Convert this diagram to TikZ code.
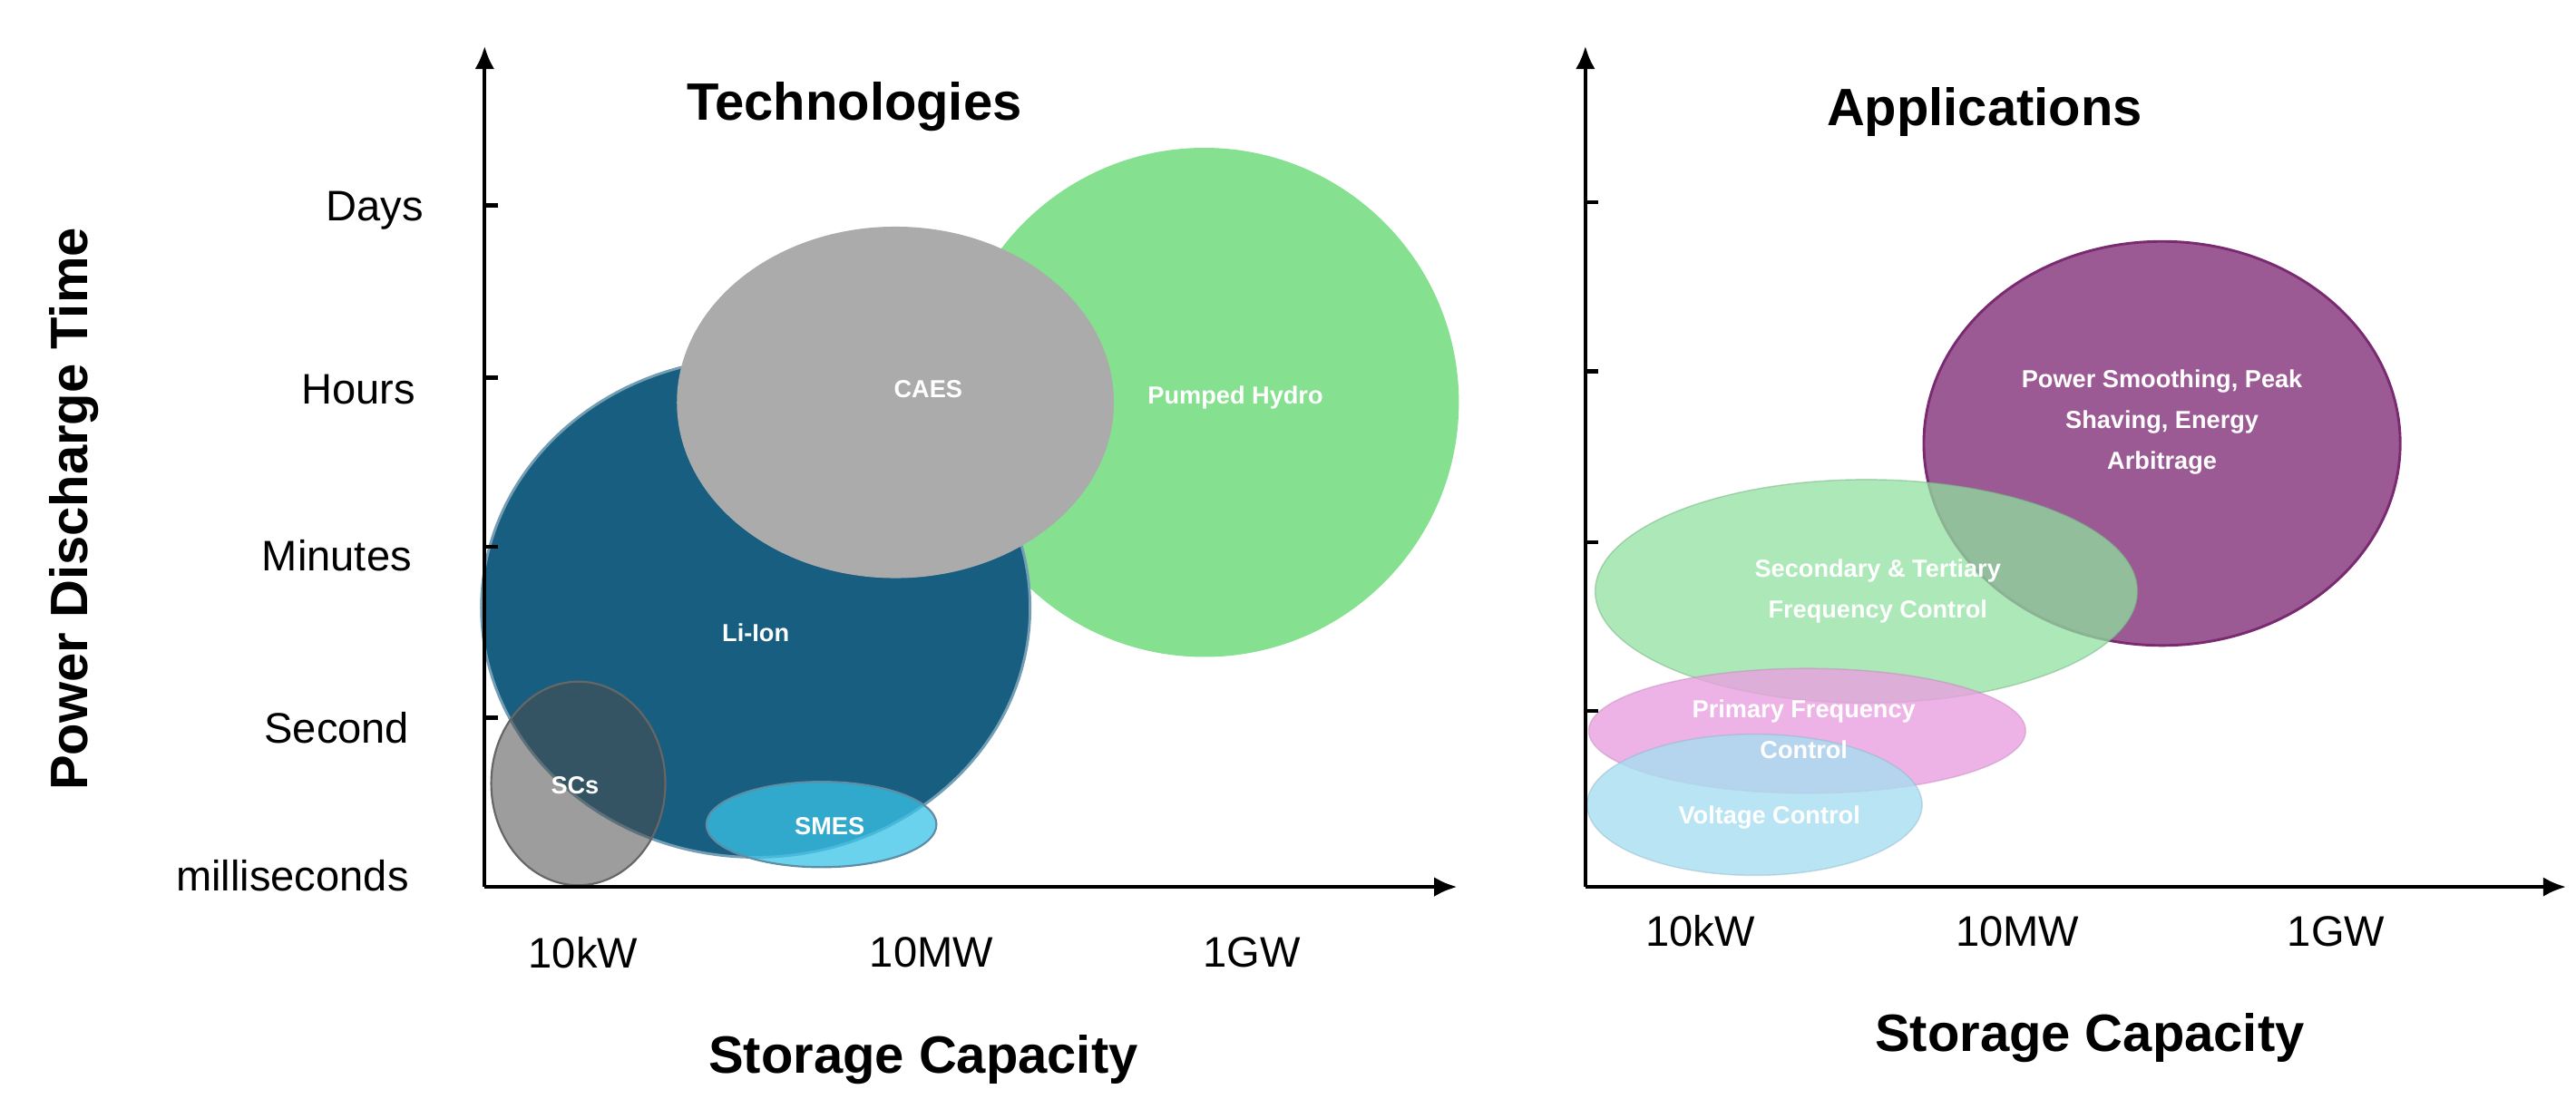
\documentclass[tikz,border=0pt]{standalone}
\usepackage{fontspec}
\setmainfont{Liberation Sans}
\usetikzlibrary{arrows.meta}
\definecolor{hydro}{HTML}{85E08F}
\definecolor{liion}{HTML}{175E80}
\definecolor{caes}{HTML}{ABABAB}
\definecolor{smes}{HTML}{3AC3E8}
\definecolor{purp}{HTML}{9B5A93}
\definecolor{purpb}{HTML}{7A2A70}
\definecolor{agreen}{HTML}{90E0A0}
\definecolor{apink}{HTML}{E9A0E0}
\definecolor{ablue}{HTML}{A8DDF0}
\begin{document}
\begin{tikzpicture}[x=0.5pt,y=-0.5pt,
 ax/.style={line width=1.2pt,-{Latex[length=7pt,width=6pt]}},
 tk/.style={line width=1.2pt},
 lab/.style={font=\fontsize{13}{15}\selectfont},
 ttl/.style={font=\fontsize{16}{19}\selectfont\bfseries},
 el/.style={text=white,font=\fontsize{7.5}{12.5}\selectfont\bfseries,align=center}]
\useasboundingbox (0,0) rectangle (1568,669);
% left ellipses
\fill[hydro] (733,245) ellipse [x radius=155,y radius=155];
\filldraw[fill=liion,draw=liion!60!white,line width=0.8pt] (460,370) ellipse [x radius=167,y radius=152];
\fill[caes] (545,245) ellipse [x radius=133,y radius=107];
\filldraw[fill=black!70,fill opacity=0.55,draw=black!60,line width=0.6pt] (352,477) ellipse [x radius=53,y radius=62];
\filldraw[fill=smes,fill opacity=0.75,draw=liion!70,line width=0.6pt] (500,502) ellipse [x radius=70,y radius=26];
\node[el] (ph) at (752,242) {Pumped Hydro};
\node[el] (li) at (460,385) {Li-Ion};
\node[el] (ca) at (565,237) {CAES};
\node[el] (sc) at (350,478) {SCs};
\node[el] (sm) at (505,503) {SMES};
% left axes
\coordinate (lo) at (295,540);
\coordinate (ly) at (295,28);
\coordinate (lx) at (887,540);
\draw[ax] (lo) -- (ly);
\draw[ax] (lo) -- (lx);
\foreach \y in {125,230,333,437} \draw[tk] (295,\y) -- (303,\y);
\node[lab] (d) at (228,128) {Days};
\node[lab] (h) at (218,237) {Hours};
\node[lab] (m) at (205,338) {Minutes};
\node[lab] (s) at (205,443) {Second};
\node[lab] (ms) at (178,533) {milliseconds};
\node[ttl] (t1) at (520,65) {Technologies};
\node[lab] (x1) at (355,580) {10kW};
\node[lab] (x2) at (567,580) {10MW};
\node[lab] (x3) at (762,580) {1GW};
\node[ttl] (sx1) at (562,645) {Storage Capacity};
\node[ttl,rotate=90] (py) at (45,310) {Power Discharge Time};
% right ellipses
\filldraw[fill=purp,draw=purpb,line width=0.8pt] (1316,270) ellipse [x radius=145,y radius=123];
\filldraw[fill=agreen,fill opacity=0.75,draw=agreen!80!black,draw opacity=0.5] (1136,360) ellipse [x radius=165,y radius=68];
\filldraw[fill=apink,fill opacity=0.8,draw=apink!80!black,draw opacity=0.4] (1100,445) ellipse [x radius=133,y radius=38];
\filldraw[fill=ablue,fill opacity=0.8,draw=ablue!80!black,draw opacity=0.4] (1068,490) ellipse [x radius=102,y radius=43];
\node[el] (pw) at (1316,257) {Power Smoothing, Peak\\Shaving, Energy\\Arbitrage};
\node[el] (sf) at (1143,360) {Secondary \& Tertiary\\Frequency Control};
\node[el] (pf) at (1098,444) {Primary Frequency\\Control};
\node[el] (vc) at (1077,498) {Voltage Control};
% right axes
\coordinate (ro) at (965,540);
\coordinate (ry) at (965,28);
\coordinate (rx) at (1562,540);
\draw[ax] (ro) -- (ry);
\draw[ax] (ro) -- (rx);
\foreach \y in {123,226,330,433} \draw[tk] (965,\y) -- (973,\y);
\node[ttl] (t2) at (1208,68) {Applications};
\node[lab] (r1) at (1035,567) {10kW};
\node[lab] (r2) at (1228,567) {10MW};
\node[lab] (r3) at (1422,567) {1GW};
\node[ttl] (sx2) at (1272,632) {Storage Capacity};
\end{tikzpicture}
\end{document}
